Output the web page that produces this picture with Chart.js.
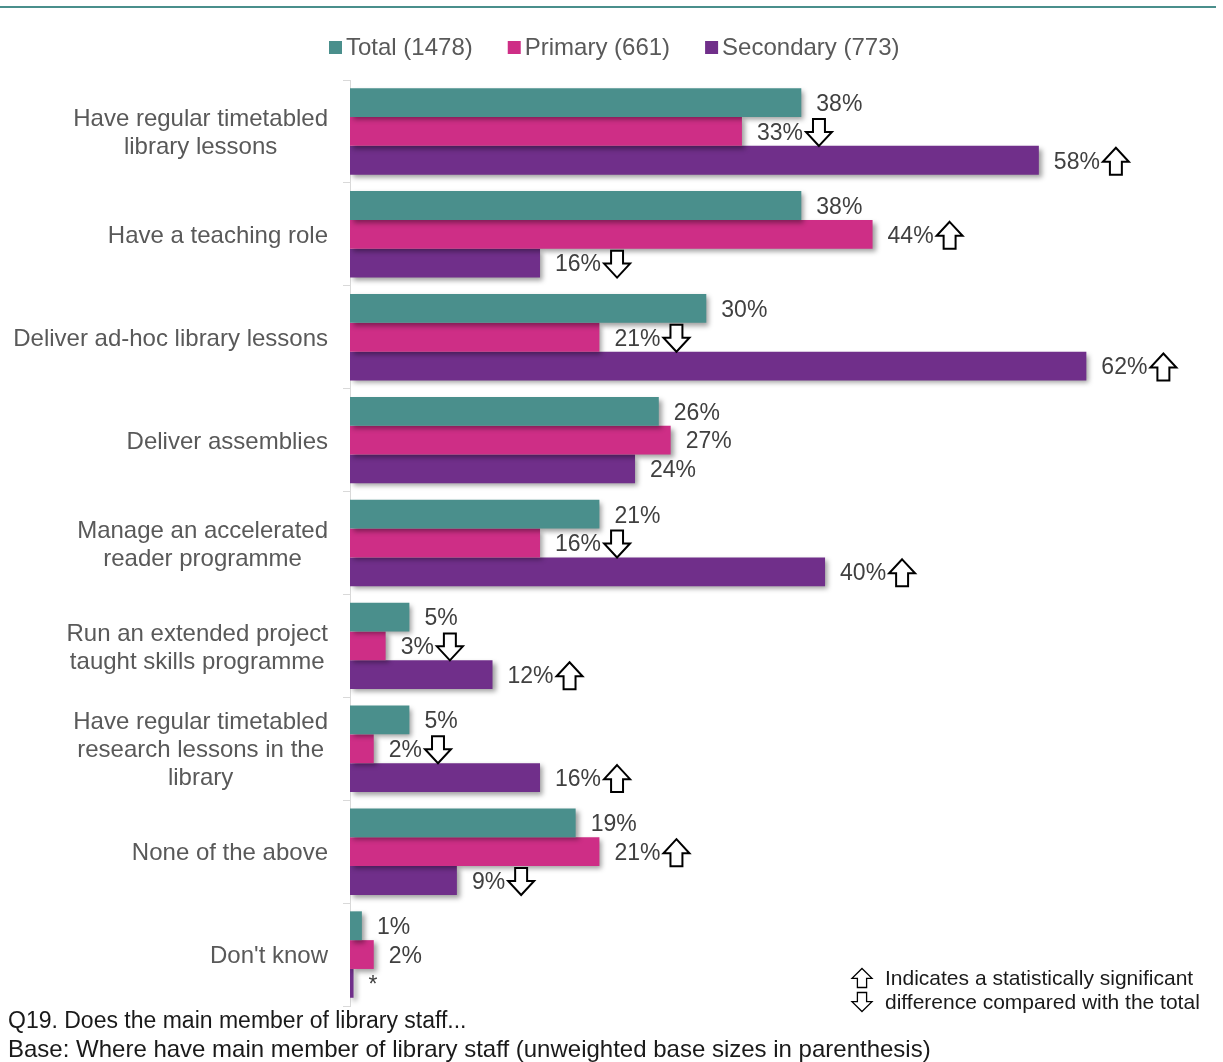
<!DOCTYPE html>
<html>
<head>
<meta charset="utf-8">
<script src="https://cdn.jsdelivr.net/npm/chart.js@4.4.0/dist/chart.umd.min.js"></script>
<style>
  html, body { margin: 0; padding: 0; background: #fff; }
  #wrap { position: relative; width: 1223px; height: 1062px; }
</style>
</head>
<body>
<div id="wrap"><canvas id="roleChart"></canvas></div>
<script>
// Q19 role of main library staff member, by school phase
const categories = [
    ['Have regular timetabled', 'library lessons'],
    ['Have a teaching role'],
    ['Deliver ad-hoc library lessons'],
    ['Deliver assemblies'],
    ['Manage an accelerated', 'reader programme'],
    ['Run an extended project', 'taught skills programme'],
    ['Have regular timetabled', 'research lessons in the', 'library'],
    ['None of the above'],
    ["Don't know"]
];
const seriesNames     = ['Total (1478)', 'Primary (661)', 'Secondary (773)'];
const totalValues     = [38, 38, 30, 26, 21, 5, 5, 19, 1];
const primaryValues   = [33, 44, 21, 27, 16, 3, 2, 21, 2];
const secondaryValues = [58, 16, 62, 24, 40, 12, 16, 9, 0.3];
// significance vs total: 1 = higher, -1 = lower, 0 = none
const totalSig     = [0, 0, 0, 0, 0, 0, 0, 0, 0];
const primarySig   = [-1, 1, -1, 0, -1, -1, -1, 1, 0];
const secondarySig = [1, -1, 1, 0, 1, 1, 1, -1, 0];

const colors = ['#4a8f8c', '#ce2e86', '#702f8a'];
const FONT = "Arial, 'Liberation Sans', sans-serif";
const sigs = [totalSig, primarySig, secondarySig];

function valueText(v) {
    return v < 0.5 ? '*' : Math.round(v) + '%';
}

// outlined block arrow, dir 1 = up, -1 = down
function drawArrow(ctx, x, cy, dir, w, h, lw) {
    const top = cy - h / 2, bot = cy + h / 2;
    const headH = h * 0.52, sw = w * 0.46, mid = x + w / 2;
    ctx.save();
    ctx.beginPath();
    if (dir > 0) {
        ctx.moveTo(mid, top);
        ctx.lineTo(x + w, top + headH);
        ctx.lineTo(mid + sw / 2, top + headH);
        ctx.lineTo(mid + sw / 2, bot);
        ctx.lineTo(mid - sw / 2, bot);
        ctx.lineTo(mid - sw / 2, top + headH);
        ctx.lineTo(x, top + headH);
    } else {
        ctx.moveTo(mid, bot);
        ctx.lineTo(x + w, bot - headH);
        ctx.lineTo(mid + sw / 2, bot - headH);
        ctx.lineTo(mid + sw / 2, top);
        ctx.lineTo(mid - sw / 2, top);
        ctx.lineTo(mid - sw / 2, bot - headH);
        ctx.lineTo(x, bot - headH);
    }
    ctx.closePath();
    ctx.fillStyle = '#fff';
    ctx.fill();
    ctx.lineWidth = lw;
    ctx.lineJoin = 'miter';
    ctx.strokeStyle = '#000';
    ctx.stroke();
    ctx.restore();
}

const barShadow = {
    id: 'barShadow',
    beforeDatasetsDraw(chart) {
        const ctx = chart.ctx;
        ctx.save();
        ctx.shadowColor = 'rgba(0,0,0,0.38)';
        ctx.shadowBlur = 5;
        ctx.shadowOffsetX = 3;
        ctx.shadowOffsetY = 3;
    },
    afterDatasetsDraw(chart) {
        chart.ctx.restore();
    }
};

const barLabels = {
    id: 'barLabels',
    afterDatasetsDraw(chart) {
        const ctx = chart.ctx;
        ctx.save();
        ctx.font = '23px ' + FONT;
        ctx.fillStyle = '#404040';
        ctx.textBaseline = 'middle';
        ctx.textAlign = 'left';
        chart.data.datasets.forEach((ds, i) => {
            const meta = chart.getDatasetMeta(i);
            meta.data.forEach((bar, j) => {
                const txt = valueText(ds.data[j]);
                const tx = bar.x + 15;
                const ty = bar.y + 2;
                ctx.fillText(txt, tx, ty);
                const s = sigs[i][j];
                if (s !== 0) {
                    const tw = ctx.measureText(txt).width;
                    drawArrow(ctx, tx + tw + 3, bar.y + 1, s, 26, 27, 2);
                }
            });
        });
        ctx.restore();
    }
};

const decorations = {
    id: 'decorations',
    afterDraw(chart) {
        const ctx = chart.ctx;
        const yScale = chart.scales.y;
        ctx.save();

        // rule along the top
        ctx.fillStyle = '#4a8f8c';
        ctx.fillRect(0, 6, 1216, 2);

        // category labels: block right-aligned to the axis, lines centred
        ctx.font = '24px ' + FONT;
        ctx.fillStyle = '#595959';
        ctx.textBaseline = 'middle';
        ctx.textAlign = 'center';
        categories.forEach((lines, j) => {
            const cy = yScale.getPixelForValue(j);
            const maxW = Math.max(...lines.map(l => ctx.measureText(l).width));
            const cx = 328 - maxW / 2;
            const lh = 28;
            lines.forEach((l, k) => {
                ctx.fillText(l, cx, cy + (k - (lines.length - 1) / 2) * lh + 2);
            });
        });

        // legend
        ctx.textAlign = 'left';
        let lx = 329;
        seriesNames.forEach((name, i) => {
            ctx.fillStyle = colors[i];
            ctx.fillRect(lx, 41, 13, 13);
            ctx.fillStyle = '#595959';
            ctx.fillText(name, lx + 17, 48);
            lx += 17 + ctx.measureText(name).width + 35;
        });

        // significance key
        ctx.font = '21px ' + FONT;
        drawArrow(ctx, 852, 978, 1, 20, 19, 1.3);
        drawArrow(ctx, 852, 1002, -1, 20, 19, 1.3);
        ctx.fillStyle = '#1a1a1a';
        ctx.fillText('Indicates a statistically significant', 885, 979);
        ctx.fillText('difference compared with the total', 885, 1003);

        // footnotes
        ctx.font = '23px ' + FONT;
        ctx.fillText('Q19. Does the main member of library staff...', 8, 1022);
        ctx.font = '24px ' + FONT;
        ctx.fillText('Base: Where have main member of library staff (unweighted base sizes in parenthesis)', 8, 1050);
        ctx.restore();
    }
};

const ctx = document.getElementById('roleChart');
new Chart(ctx, {
    type: 'bar',
    data: {
        labels: categories,
        datasets: [
            { label: seriesNames[0], data: totalValues,     backgroundColor: colors[0] },
            { label: seriesNames[1], data: primaryValues,   backgroundColor: colors[1] },
            { label: seriesNames[2], data: secondaryValues, backgroundColor: colors[2] }
        ]
    },
    options: {
        indexAxis: 'y',
        responsive: true,
        maintainAspectRatio: false,
        animation: false,
        categoryPercentage: 0.84,
        barPercentage: 1.0,
        layout: { padding: { top: 80, bottom: 56, left: 0, right: 6 } },
        plugins: {
            legend: { display: false },
            tooltip: { enabled: false }
        },
        scales: {
            x: {
                display: false,
                min: 0,
                max: 73
            },
            y: {
                afterFit: s => { s.width = 350; },
                ticks: { display: false },
                border: { color: '#d9d9d9', width: 1 },
                grid: { drawOnChartArea: false, drawTicks: true, tickLength: 7, color: '#d9d9d9' }
            }
        }
    },
    plugins: [barShadow, barLabels, decorations]
});
</script>
</body>
</html>
